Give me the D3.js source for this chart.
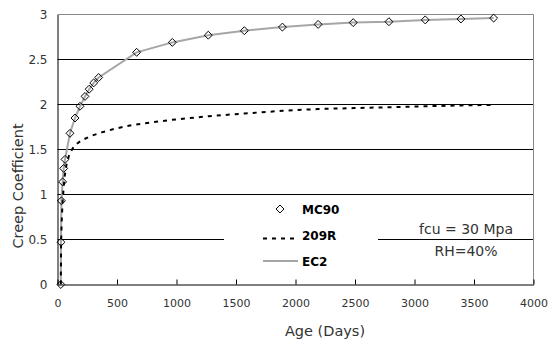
<!DOCTYPE html>
<html>
<head>
<meta charset="utf-8">
<script src="https://cdn.jsdelivr.net/npm/d3@7"></script>
<style>
  html, body { margin: 0; padding: 0; background: #fff; }
  svg { display: block; }
</style>
</head>
<body>
<svg id="chart" width="550" height="345"></svg>
<script>
// ---- data ----
const mc90Days   = [28, 29, 33, 43, 52, 63, 105, 147, 189, 231, 266, 304, 346, 665, 965, 1267, 1570, 1890, 2190, 2485, 2785, 3090, 3390, 3665];
const mc90Values = [0, 0.47, 0.93, 1.14, 1.29, 1.39, 1.68, 1.85, 1.98, 2.09, 2.17, 2.24, 2.30, 2.58, 2.69, 2.77, 2.82, 2.86, 2.89, 2.91, 2.92, 2.94, 2.95, 2.96];

const ec2Days   = [28, 29, 33, 43, 52, 63, 105, 147, 189, 231, 266, 304, 346, 665, 965, 1267, 1570, 1890, 2190, 2485, 2785, 3090, 3390, 3665];
const ec2Values = [0, 0.47, 0.93, 1.14, 1.29, 1.39, 1.68, 1.85, 1.98, 2.09, 2.17, 2.24, 2.30, 2.58, 2.69, 2.77, 2.82, 2.86, 2.89, 2.91, 2.92, 2.94, 2.95, 2.96];

const r209Days   = [28, 30, 35, 42, 50, 60, 75, 100, 140, 200, 280, 370, 480, 620, 780, 960, 1270, 1570, 1890, 2190, 2490, 2790, 3090, 3390, 3665];
const r209Values = [0, 0.45, 0.70, 0.90, 1.05, 1.20, 1.33, 1.45, 1.54, 1.60, 1.65, 1.69, 1.73, 1.77, 1.80, 1.83, 1.87, 1.90, 1.93, 1.95, 1.96, 1.97, 1.98, 1.99, 1.995];

const xTickValues = [0, 500, 1000, 1500, 2000, 2500, 3000, 3500, 4000];
const xTickLabels = ["0", "500", "1000", "1500", "2000", "2500", "3000", "3500", "4000"];
const yTickValues = [0, 0.5, 1, 1.5, 2, 2.5, 3];
const yTickLabels = ["0", "0.5", "1", "1.5", "2", "2.5", "3"];
const gridValues  = [0.5, 1, 1.5, 2, 2.5];

const seriesNames = ["MC90", "209R", "EC2"];
const xTitle = "Age (Days)";
const yTitle = "Creep Coefficient";
const noteLines = ["fcu = 30 Mpa", "RH=40%"];

// ---- layout ----
const svg = d3.select("#chart");
const pLeft = 57.5, pRight = 533.5, pTop = 14.5, pBottom = 284.5;
const x = d3.scaleLinear().domain([0, 4000]).range([pLeft, pRight]);
const y = d3.scaleLinear().domain([0, 3]).range([pBottom, pTop]);
const font = "'DejaVu Sans', 'Liberation Sans', Arial, sans-serif";

// grid lines
svg.append("g").selectAll("line").data(gridValues).join("line")
  .attr("x1", pLeft).attr("x2", pRight)
  .attr("y1", d => y(d)).attr("y2", d => y(d))
  .attr("stroke", "#000").attr("stroke-width", 1);

// plot border (top/right) gray
svg.append("line").attr("x1", pLeft).attr("x2", pRight).attr("y1", pTop).attr("y2", pTop)
  .attr("stroke", "#888").attr("stroke-width", 1);
svg.append("line").attr("x1", pRight).attr("x2", pRight).attr("y1", pTop).attr("y2", pBottom)
  .attr("stroke", "#888").attr("stroke-width", 1);

// x axis
const xAxis = d3.axisBottom(x).tickValues(xTickValues)
  .tickFormat((d, i) => xTickLabels[i]).tickSizeInner(-5).tickSizeOuter(0).tickPadding(15);
const gx = svg.append("g").attr("transform", `translate(0,${pBottom})`).call(xAxis);
gx.select(".domain").attr("stroke", "#000");
gx.selectAll(".tick line").attr("stroke", "#000");
gx.selectAll("text").attr("font-family", font).attr("font-size", 11).attr("fill", "#333");

// y axis
const yAxis = d3.axisLeft(y).tickValues(yTickValues)
  .tickFormat((d, i) => yTickLabels[i]).tickSize(0).tickPadding(10);
const gy = svg.append("g").attr("transform", `translate(${pLeft},0)`).call(yAxis);
gy.select(".domain").attr("stroke", "#000");
gy.selectAll("text").attr("font-family", font).attr("font-size", 12).attr("fill", "#333");

// lines
const line = d3.line().x(d => x(d[0])).y(d => y(d[1]));
const ec2 = ec2Days.map((d, i) => [d, ec2Values[i]]);
const r209 = r209Days.map((d, i) => [d, r209Values[i]]);
const mc90 = mc90Days.map((d, i) => [d, mc90Values[i]]);

svg.append("path").datum(ec2).attr("d", line)
  .attr("fill", "none").attr("stroke", "#a6a6a6").attr("stroke-width", 2);
svg.append("path").datum(r209).attr("d", line)
  .attr("fill", "none").attr("stroke", "#000").attr("stroke-width", 2)
  .attr("stroke-dasharray", "4,5");

const diamond = d3.symbol().type(d3.symbolDiamond2).size(40);
svg.append("g").selectAll("path").data(mc90).join("path")
  .attr("d", diamond)
  .attr("transform", d => `translate(${x(d[0])},${y(d[1])})`)
  .attr("fill", "none").attr("stroke", "#000").attr("stroke-width", 1);

// legend
const lg = svg.append("g");
lg.append("rect").attr("x", 224).attr("y", 198).attr("width", 154).attr("height", 78).attr("fill", "#fff");
lg.append("path").attr("d", diamond).attr("transform", "translate(280,209)")
  .attr("fill", "#fff").attr("stroke", "#000");
lg.append("line").attr("x1", 263).attr("x2", 298).attr("y1", 238.5).attr("y2", 238.5)
  .attr("stroke", "#000").attr("stroke-width", 2).attr("stroke-dasharray", "4,5");
lg.append("line").attr("x1", 263).attr("x2", 298).attr("y1", 261).attr("y2", 261)
  .attr("stroke", "#a6a6a6").attr("stroke-width", 2);
lg.selectAll("text").data(seriesNames).join("text")
  .attr("x", 302).attr("y", (d, i) => 214 + i * 26)
  .attr("font-family", font).attr("font-size", 12).attr("font-weight", "bold")
  .attr("fill", "#000").text(d => d);

// note
svg.append("g").selectAll("text").data(noteLines).join("text")
  .attr("x", 466).attr("y", (d, i) => 234 + i * 22)
  .attr("text-anchor", "middle").attr("font-family", font).attr("font-size", 14)
  .attr("fill", "#333").text(d => d);

// titles
svg.append("text").attr("x", 325).attr("y", 336).attr("text-anchor", "middle")
  .attr("font-family", font).attr("font-size", 14.5).attr("fill", "#333").text(xTitle);
svg.append("text").attr("transform", "translate(23,186) rotate(-90)").attr("text-anchor", "middle")
  .attr("font-family", font).attr("font-size", 14.5).attr("fill", "#333").text(yTitle);
</script>
</body>
</html>
